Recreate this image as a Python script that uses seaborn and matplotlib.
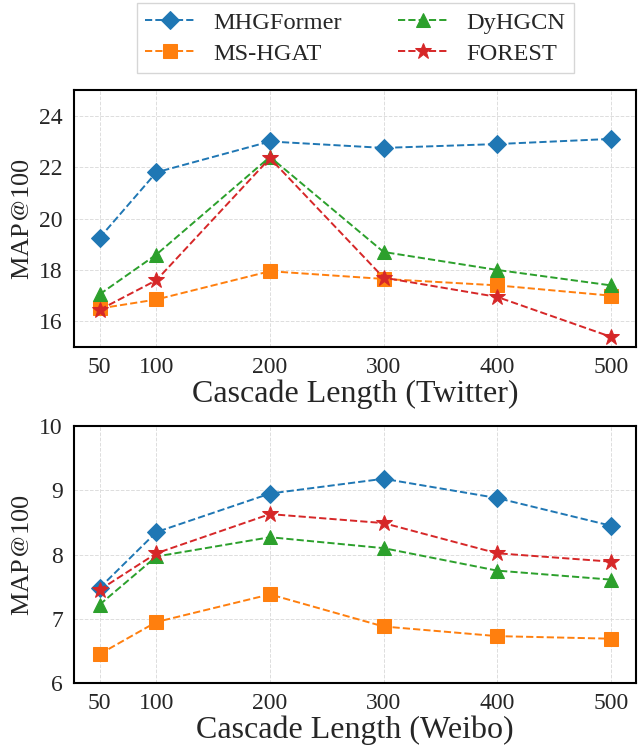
import pandas as pd
import matplotlib
matplotlib.use('Agg')
import matplotlib.pyplot as plt
import seaborn as sb

# data
lengths = [50, 100, 200, 300, 400, 500]
models = ["MHGFormer", "MS-HGAT", "DyHGCN", "FOREST"]
twitter_mhgformer = [19.25, 21.8, 23.0, 22.75, 22.9, 23.1]
twitter_mshgat = [16.5, 16.85, 17.95, 17.65, 17.4, 17.0]
twitter_dyhgcn = [17.05, 18.6, 22.4, 18.7, 18.0, 17.4]
twitter_forest = [16.45, 17.6, 22.35, 17.7, 16.95, 15.4]
weibo_mhgformer = [7.48, 8.35, 8.95, 9.18, 8.88, 8.45]
weibo_mshgat = [6.45, 6.95, 7.38, 6.88, 6.73, 6.69]
weibo_dyhgcn = [7.22, 7.97, 8.27, 8.1, 7.75, 7.61]
weibo_forest = [7.45, 8.02, 8.63, 8.49, 8.02, 7.89]


def to_long(series):
    rows = []
    for name, vals in zip(models, series):
        for x, y in zip(lengths, vals):
            rows.append({"length": x, "map": y, "model": name})
    return pd.DataFrame(rows)


twitter = to_long([twitter_mhgformer, twitter_mshgat, twitter_dyhgcn, twitter_forest])
weibo = to_long([weibo_mhgformer, weibo_mshgat, weibo_dyhgcn, weibo_forest])

sb.set_theme(style="whitegrid")
plt.rcParams['font.family'] = ['Liberation Serif', 'DejaVu Serif']
plt.rcParams['mathtext.fontset'] = 'stix'

palette = {"MHGFormer": "#1f77b4", "MS-HGAT": "#ff7f0e", "DyHGCN": "#2ca02c", "FOREST": "#d62728"}
markers = {"MHGFormer": "D", "MS-HGAT": "s", "DyHGCN": "^", "FOREST": "*"}
sizes = {"MHGFormer": 9, "MS-HGAT": 10, "DyHGCN": 10, "FOREST": 12}

fig = plt.figure(figsize=(6.44, 7.49), dpi=100)
ax1 = fig.add_axes([0.115, 0.5367, 0.873, 0.343])
ax2 = fig.add_axes([0.115, 0.0881, 0.873, 0.343])

for ax, df, ylim, yticks, xlabel in [
    (ax1, twitter, (15, 25), [16, 18, 20, 22, 24], "Cascade Length (Twitter)"),
    (ax2, weibo, (6, 10), [6, 7, 8, 9, 10], "Cascade Length (Weibo)"),
]:
    for m in models:
        sb.lineplot(data=df[df["model"] == m], x="length", y="map", ax=ax,
                    color=palette[m], marker=markers[m], markersize=sizes[m],
                    markeredgecolor=palette[m], linestyle="--", linewidth=1.4,
                    dashes=(4, 2), label=m, legend=False)
    ax.set_xlim(27.5, 522.5)
    ax.set_ylim(*ylim)
    ax.set_xticks(lengths)
    ax.set_yticks(yticks)
    ax.tick_params(axis="y", labelsize=17, pad=2)
    ax.tick_params(axis="x", labelsize=17, pad=1)
    ax.set_xlabel(xlabel, fontsize=23, labelpad=1)
    ax.set_ylabel("MAP$@$100", fontsize=19, labelpad=4)
    ax.grid(True, linestyle="--", color="#dddddd", linewidth=0.7)
    for s in ax.spines.values():
        s.set_color("black")
        s.set_linewidth(1.5)

handles, labels = ax1.get_legend_handles_labels()
fig.legend(handles, labels, loc="upper center", bbox_to_anchor=(0.552, 0.999),
           ncol=2, fontsize=17.6, frameon=True, edgecolor="#cccccc",
           fancybox=False, handlelength=2.0, handletextpad=0.8,
           columnspacing=2.3, labelspacing=0.35, borderpad=0.35,
           borderaxespad=0.1)

fig.savefig("out.png", dpi=100)
